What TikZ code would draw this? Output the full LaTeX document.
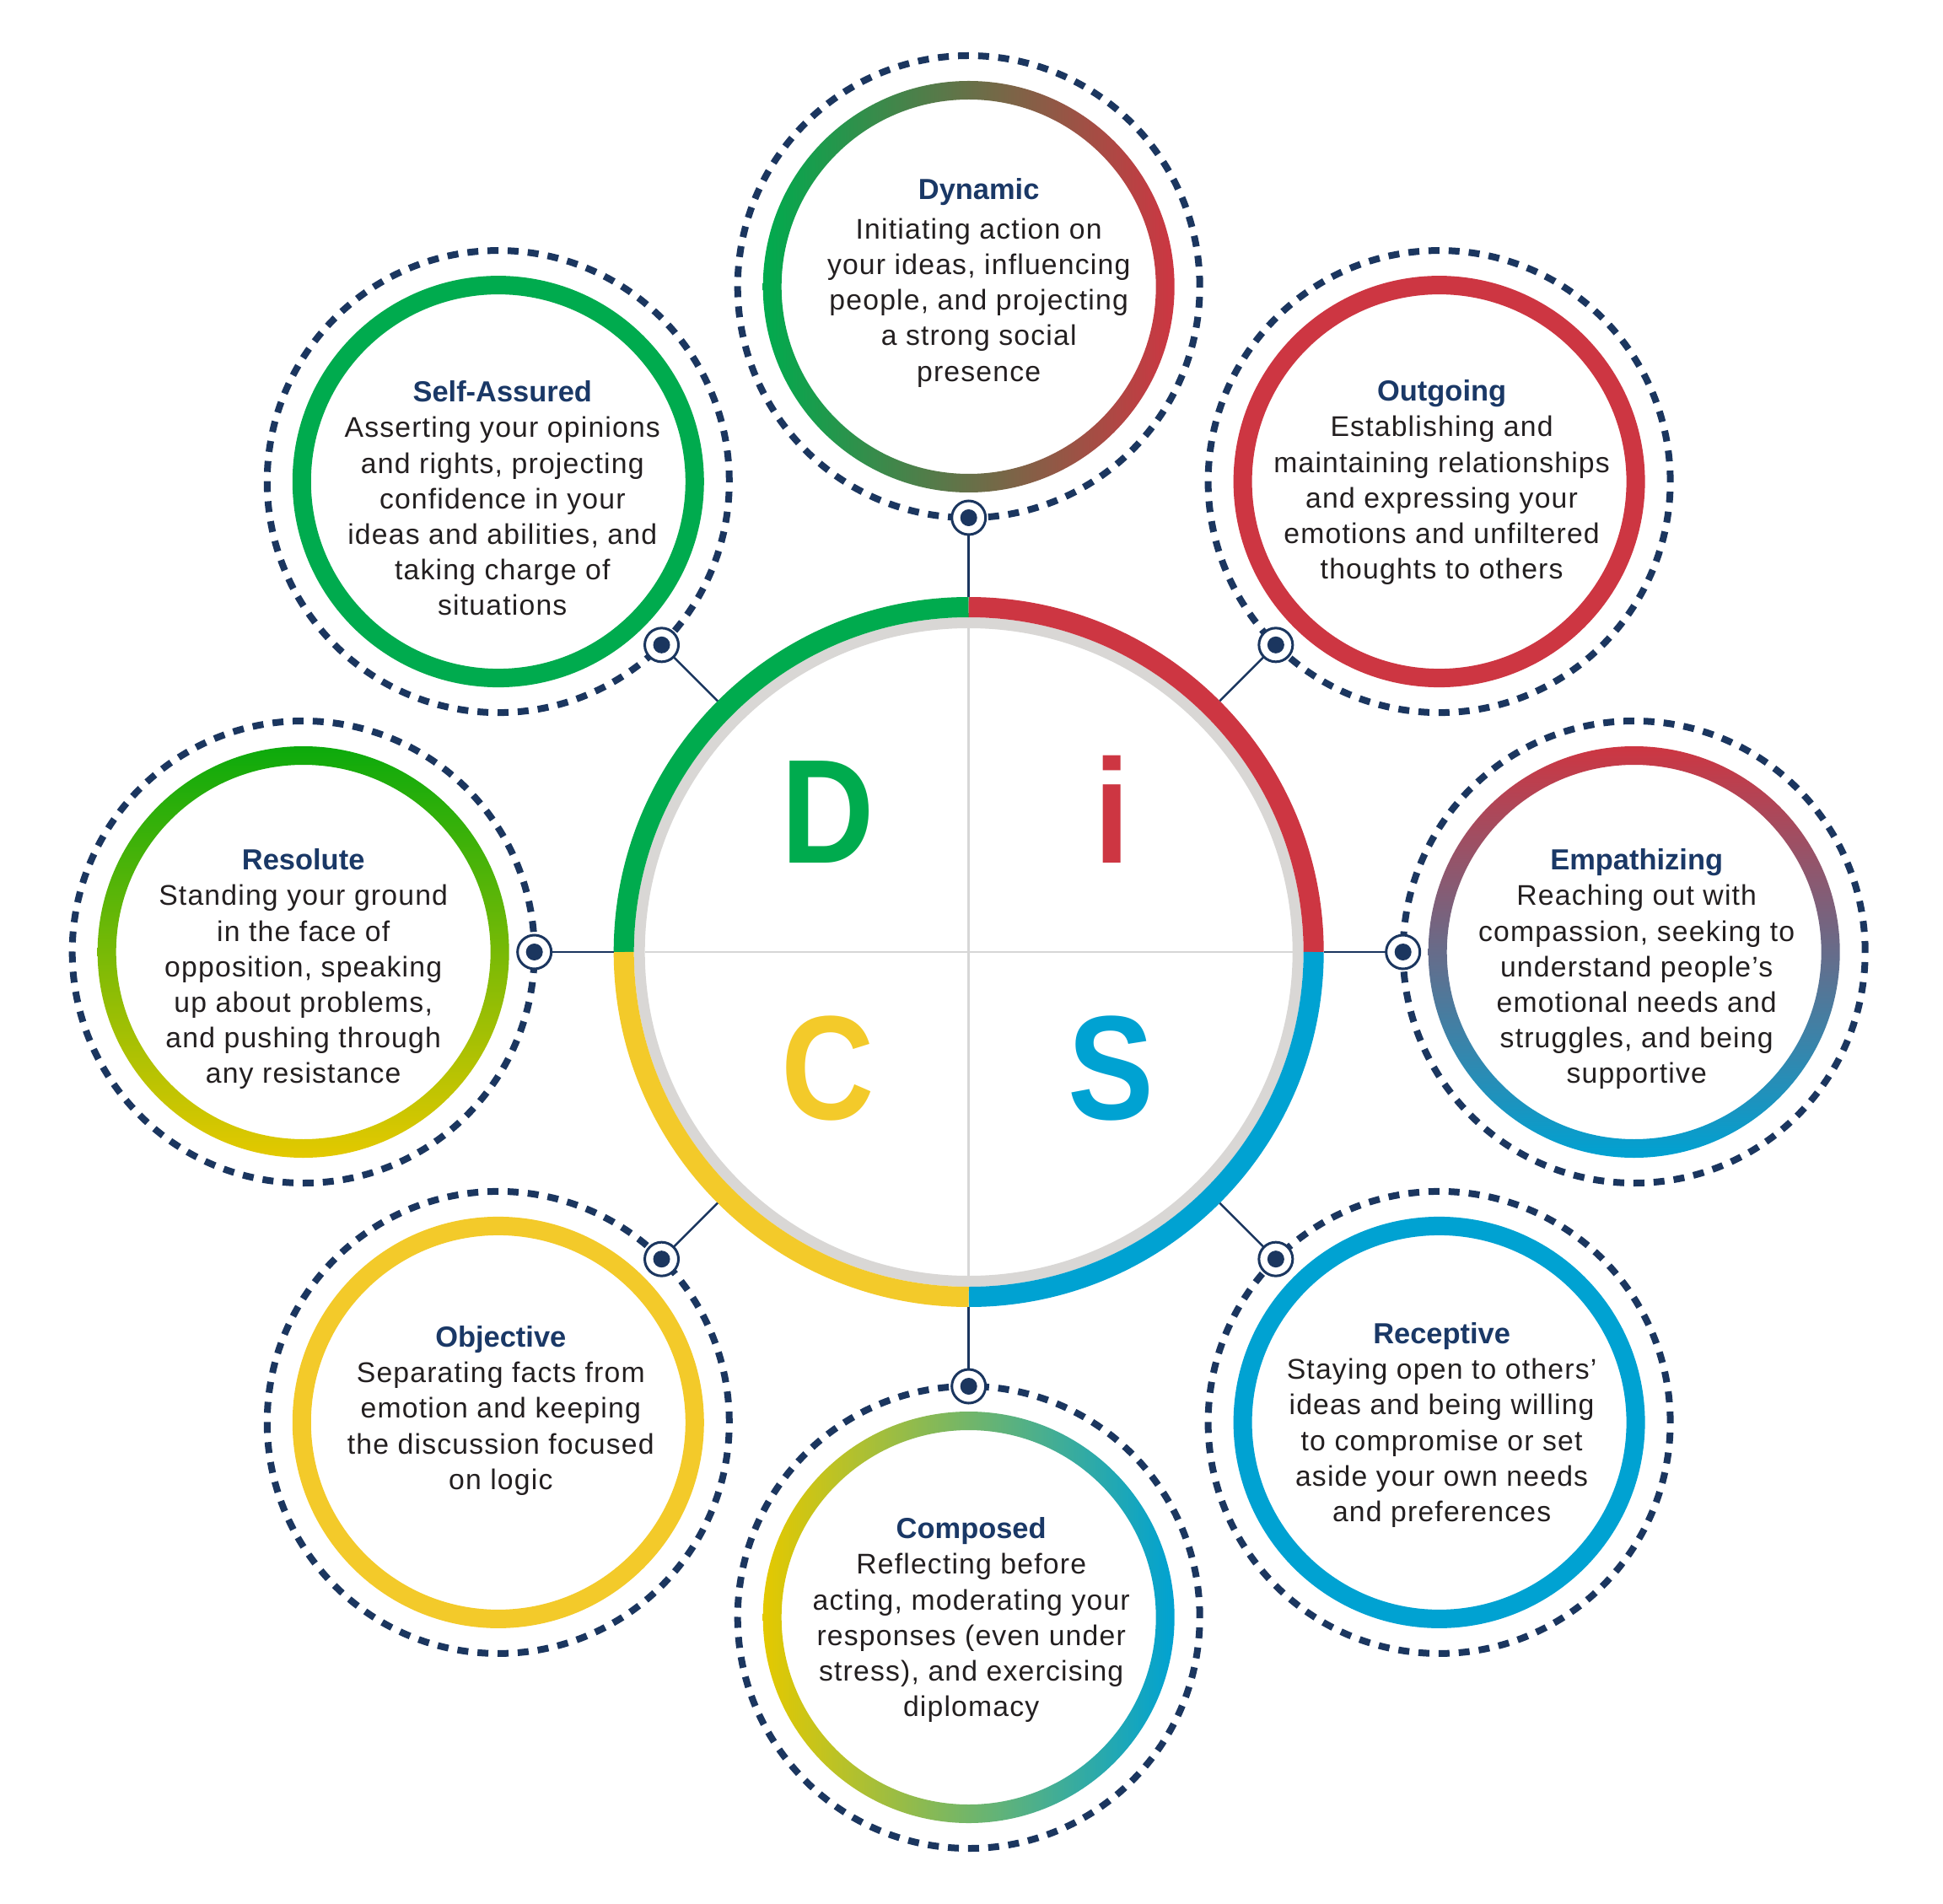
\documentclass[tikz,border=0pt]{standalone}
\usepackage{fontspec}
\setmainfont{Liberation Sans}
\newfontfamily\headfont{Liberation Sans}
\newfontfamily\letterfont[FakeStretch=0.87]{Liberation Sans}
\newfontfamily\bodyfont[LetterSpace=3.5]{Liberation Sans}
\usepackage{tikz}
\usetikzlibrary{positioning,calc}
\definecolor{navy}{HTML}{1B365F}
\definecolor{titlenavy}{HTML}{1A3866}
\definecolor{bodyink}{HTML}{231F20}
\definecolor{discgreen}{HTML}{00AB4E}
\definecolor{discred}{HTML}{CD3642}
\definecolor{discblue}{HTML}{00A2D2}
\definecolor{discyellow}{HTML}{F3CA2A}
\definecolor{leafgreen}{HTML}{0CAA0C}
\definecolor{lemon}{HTML}{E4C900}
\definecolor{greyring}{HTML}{D9D7D5}
\definecolor{greyline}{HTML}{D6D6D6}
\newcommand{\traitname}[1]{{\color{titlenavy}\headfont\bfseries\fontsize{9.8}{12}\selectfont #1}}
\tikzset{
  coredisc/.style={circle,minimum size=8.42cm,inner sep=0pt,outer sep=0pt},
  quadarc/.style={line width=0.24cm},
  innerring/.style={draw=greyring,line width=0.13cm},
  crossline/.style={draw=greyline,line width=0.025cm},
  dashring/.style={circle,draw=navy,line width=0.08cm,dash pattern=on 0.13cm off 0.109cm,
    minimum size=5.48cm,inner sep=0pt,outer sep=0pt},
  satring/.style={line width=0.22cm},
  anchordot/.style={circle,draw=navy,fill=white,line width=0.03cm,minimum size=0.40cm,
    inner sep=0pt,outer sep=0pt,
    path picture={\fill[navy] (path picture bounding box.center) circle (0.10cm);}},
  linkline/.style={draw=navy,line width=0.025cm},
  traittext/.style={anchor=north,align=center,inner sep=0pt,text=bodyink,
    font=\bodyfont\fontsize{9.6}{12}\selectfont},
  discletter/.style={anchor=base,inner sep=0pt,font=\letterfont\bfseries\fontsize{50}{50}\selectfont},
}
\begin{document}
\begin{tikzpicture}
  \useasboundingbox (-11.487,-11.28) rectangle (11.553,11.29);

  \node[coredisc] (core) at (0,0) {};
  \draw[crossline] (-3.84,0) -- (3.84,0);
  \draw[crossline] (0,-3.84) -- (0,3.84);
  \draw[innerring] (core.center) circle (3.905);
  \draw[quadarc,discgreen] (90:4.09) arc (90:180:4.09);
  \draw[quadarc,discred] (0:4.09) arc (0:90:4.09);
  \draw[quadarc,discblue] (270:4.09) arc (270:360:4.09);
  \draw[quadarc,discyellow] (180:4.09) arc (180:270:4.09);
  \node[discletter,text=discgreen] (dletter) at (-1.67,1.06) {D};
  \node[discletter,text=discred] (iletter) at (1.70,1.06) {i};
  \node[discletter,text=discyellow] (cletter) at (-1.67,-1.98) {C};
  \node[discletter,text=discblue] (sletter) at (1.69,-1.98) {S};

  \node[dashring] (dyn) at (90:7.89) {};
  \node[dashring] (outg) at (45:7.89) {};
  \node[dashring] (emp) at (0:7.89) {};
  \node[dashring] (recp) at (-45:7.89) {};
  \node[dashring] (comp) at (-90:7.89) {};
  \node[dashring] (objt) at (-135:7.89) {};
  \node[dashring] (reso) at (180:7.89) {};
  \node[dashring] (selfa) at (135:7.89) {};

  \shade[left color=discgreen,right color=discred,even odd rule] (dyn.center) circle (2.44) (dyn.center) circle (2.22);
  \draw[satring,discred] (outg.center) circle (2.33);
  \shade[top color=discred,bottom color=discblue,even odd rule] (emp.center) circle (2.44) (emp.center) circle (2.22);
  \draw[satring,discblue] (recp.center) circle (2.33);
  \shade[left color=lemon,right color=discblue,even odd rule] (comp.center) circle (2.44) (comp.center) circle (2.22);
  \draw[satring,discyellow] (objt.center) circle (2.33);
  \shade[top color=leafgreen,bottom color=lemon,even odd rule] (reso.center) circle (2.44) (reso.center) circle (2.22);
  \draw[satring,discgreen] (selfa.center) circle (2.33);

  \node[anchordot] (dynpin) at (dyn.270) {};
  \node[anchordot] (outgpin) at (outg.225) {};
  \node[anchordot] (emppin) at (emp.180) {};
  \node[anchordot] (recppin) at (recp.135) {};
  \node[anchordot] (comppin) at (comp.90) {};
  \node[anchordot] (objtpin) at (objt.45) {};
  \node[anchordot] (resopin) at (reso.0) {};
  \node[anchordot] (selfapin) at (selfa.315) {};

  \draw[linkline] (dynpin) -- (core);
  \draw[linkline] (outgpin) -- (core);
  \draw[linkline] (emppin) -- (core);
  \draw[linkline] (recppin) -- (core);
  \draw[linkline] (comppin) -- (core);
  \draw[linkline] (objtpin) -- (core);
  \draw[linkline] (resopin) -- (core);
  \draw[linkline] (selfapin) -- (core);

  \node[traittext] (dyntxt) at ($(dyn.center)+(0.12,1.29)$) {\traitname{Dynamic}\\[1.3pt]Initiating action on\\your ideas, influencing\\people, and projecting\\a strong social\\presence};
  \node[traittext] (outgtxt) at ($(outg.center)+(0.03,1.21)$) {\traitname{Outgoing}\\Establishing and\\maintaining relationships\\and expressing your\\emotions and unfiltered\\thoughts to others};
  \node[traittext] (emptxt) at ($(emp.center)+(0.03,1.23)$) {\traitname{Empathizing}\\Reaching out with\\compassion, seeking to\\understand people’s\\emotional needs and\\struggles, and being\\supportive};
  \node[traittext] (recptxt) at ($(recp.center)+(0.03,1.19)$) {\traitname{Receptive}\\Staying open to others’\\ideas and being willing\\to compromise or set\\aside your own needs\\and preferences};
  \node[traittext] (comptxt) at ($(comp.center)+(0.03,1.19)$) {\traitname{Composed}\\Reflecting before\\acting, moderating your\\responses (even under\\stress), and exercising\\diplomacy};
  \node[traittext] (objttxt) at ($(objt.center)+(0.03,1.15)$) {\traitname{Objective}\\Separating facts from\\emotion and keeping\\the discussion focused\\on logic};
  \node[traittext] (resotxt) at ($(reso.center)+(0.00,1.23)$) {\traitname{Resolute}\\Standing your ground\\in the face of\\opposition, speaking\\up about problems,\\and pushing through\\any resistance};
  \node[traittext] (selfatxt) at ($(selfa.center)+(0.05,1.20)$) {\traitname{Self-Assured}\\Asserting your opinions\\and rights, projecting\\confidence in your\\ideas and abilities, and\\taking charge of\\situations};
\end{tikzpicture}
\end{document}
